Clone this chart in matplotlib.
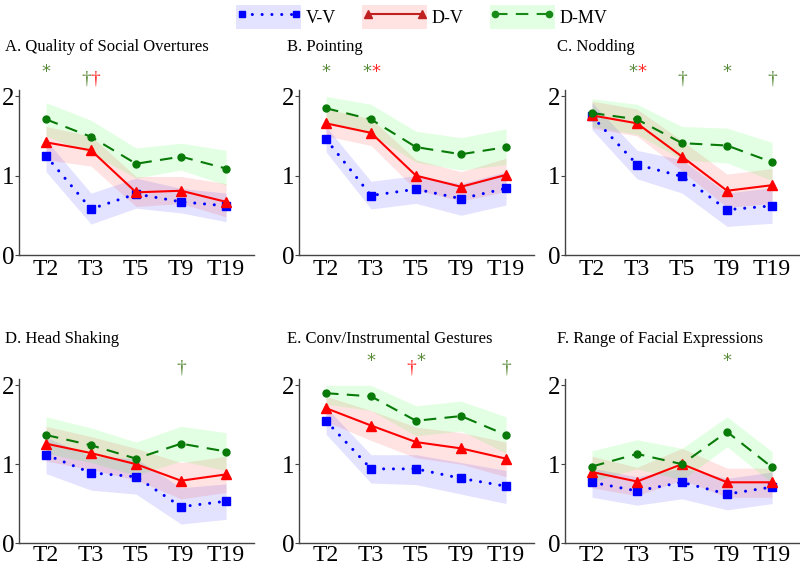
import matplotlib
matplotlib.use("Agg")
import matplotlib.pyplot as plt
from matplotlib.patches import Patch
from matplotlib.lines import Line2D
from matplotlib.legend_handler import HandlerTuple

plt.rcParams['font.family'] = ['Liberation Serif', 'DejaVu Serif']

times = ["T2", "T3", "T5", "T9", "T19"]
titles = ["A. Quality of Social Overtures", "B. Pointing", "C. Nodding",
          "D. Head Shaking", "E. Conv/Instrumental Gestures",
          "F. Range of Facial Expressions"]

# V-V group: mean, lower and upper band, one row per panel
vv_mean = [[1.25, 0.58, 0.77, 0.67, 0.62],
           [1.46, 0.75, 0.83, 0.71, 0.84],
           [1.75, 1.14, 0.99, 0.57, 0.62],
           [1.12, 0.89, 0.84, 0.46, 0.53],
           [1.55, 0.94, 0.94, 0.82, 0.72],
           [0.77, 0.66, 0.77, 0.62, 0.71]]
vv_low = [[1.05, 0.39, 0.59, 0.53, 0.42],
          [1.30, 0.58, 0.65, 0.50, 0.63],
          [1.58, 0.96, 0.78, 0.36, 0.40],
          [0.88, 0.67, 0.62, 0.24, 0.30],
          [1.38, 0.76, 0.74, 0.62, 0.50],
          [0.58, 0.48, 0.56, 0.42, 0.50]]
vv_high = [[1.45, 0.78, 0.97, 0.84, 0.78],
           [1.62, 0.93, 1.00, 0.90, 1.05],
           [1.92, 1.32, 1.20, 0.78, 0.85],
           [1.34, 1.10, 1.07, 0.70, 0.75],
           [1.72, 1.12, 1.12, 1.02, 0.92],
           [0.95, 0.84, 0.95, 0.82, 0.90]]

# D-V group
dv_mean = [[1.42, 1.32, 0.79, 0.81, 0.67],
           [1.66, 1.54, 1.00, 0.86, 1.01],
           [1.76, 1.66, 1.24, 0.81, 0.88],
           [1.26, 1.14, 1.00, 0.79, 0.87],
           [1.71, 1.49, 1.28, 1.20, 1.07],
           [0.90, 0.78, 1.00, 0.77, 0.77]]
dv_low = [[1.20, 1.12, 0.61, 0.65, 0.48],
          [1.50, 1.38, 0.82, 0.68, 0.80],
          [1.60, 1.50, 1.06, 0.60, 0.65],
          [1.04, 0.93, 0.80, 0.56, 0.64],
          [1.54, 1.30, 1.08, 1.00, 0.84],
          [0.70, 0.60, 0.80, 0.58, 0.58]]
dv_high = [[1.62, 1.50, 0.99, 0.99, 0.90],
           [1.84, 1.72, 1.20, 1.05, 1.22],
           [1.94, 1.84, 1.44, 1.02, 1.09],
           [1.48, 1.35, 1.20, 1.02, 1.10],
           [1.86, 1.68, 1.47, 1.40, 1.28],
           [1.10, 0.96, 1.20, 0.95, 0.95]]

# D-MV group
dmv_mean = [[1.71, 1.49, 1.15, 1.24, 1.09],
            [1.85, 1.71, 1.36, 1.27, 1.36],
            [1.79, 1.71, 1.41, 1.38, 1.17],
            [1.37, 1.24, 1.07, 1.26, 1.16],
            [1.90, 1.86, 1.55, 1.61, 1.37],
            [0.97, 1.13, 1.00, 1.41, 0.96]]
dmv_low = [[1.50, 1.28, 0.97, 1.07, 0.88],
           [1.66, 1.52, 1.17, 1.07, 1.14],
           [1.62, 1.52, 1.20, 1.16, 0.94],
           [1.14, 1.02, 0.86, 1.04, 0.92],
           [1.76, 1.68, 1.36, 1.42, 1.14],
           [0.78, 0.94, 0.80, 1.22, 0.76]]
dmv_high = [[1.92, 1.70, 1.35, 1.41, 1.32],
            [2.00, 1.90, 1.56, 1.48, 1.59],
            [1.97, 1.90, 1.62, 1.60, 1.42],
            [1.60, 1.46, 1.28, 1.48, 1.40],
            [2.00, 2.00, 1.74, 1.80, 1.60],
            [1.17, 1.31, 1.20, 1.60, 1.16]]

# significance marks: (time index, list of (symbol, color))
G = "#5b8c3c"
R = "#ff2a2a"
marks = [
    [(0, [("*", G)]), (1, [("†", G), ("†", R)])],
    [(0, [("*", G)]), (1, [("*", G), ("*", R)])],
    [(1, [("*", G), ("*", R)]), (2, [("†", G)]), (3, [("*", G)]), (4, [("†", G)])],
    [(3, [("†", G)])],
    [(1, [("*", G)]), (2, [("†", R), ("*", G)]), (4, [("†", G)])],
    [(3, [("*", G)])],
]

W, H = 800, 570
fig = plt.figure(figsize=(W / 100, H / 100), dpi=100)

lefts = [19, 299, 565]
tops = [90, 379]
bottoms = [255, 543]
aw = 235
title_x = [5, 287, 557]
title_y = [47, 339]

VV_LS = (0, (0.01, 3.2))
DMV_LS = (0, (6, 4))

x = list(range(len(times)))
for i in range(6):
    r, c = divmod(i, 3)
    ax = fig.add_axes([lefts[c] / W, 1 - bottoms[r] / H, aw / W,
                       (bottoms[r] - tops[r]) / H])
    ax.fill_between(x, vv_low[i], vv_high[i], color="blue", alpha=0.11, lw=0)
    ax.fill_between(x, dv_low[i], dv_high[i], color="red", alpha=0.11, lw=0)
    ax.fill_between(x, dmv_low[i], dmv_high[i], color="lime", alpha=0.11, lw=0)
    ax.plot(x, vv_mean[i], color="blue", ls=VV_LS, lw=2.2,
            marker="s", ms=5.5, dash_capstyle="round")
    ax.plot(x, dv_mean[i], color="red", ls="-", lw=1.5, marker="^", ms=6.5)
    ax.plot(x, dmv_mean[i], color="#087a08", ls=DMV_LS, lw=1.5,
            marker="o", ms=5)
    ax.set_xlim(-0.6, 4.62)
    ax.set_ylim(0, 2.08)
    ax.set_yticks([0, 1, 2])
    ax.set_xticks(x)
    ax.set_xticklabels(times)
    ax.tick_params(axis="x", length=0, labelsize=17, pad=3 if r == 0 else 1.5)
    ax.tick_params(axis="y", length=3, labelsize=18, pad=0, color="#444")
    for s in ["top", "right"]:
        ax.spines[s].set_visible(False)
    for s in ["left", "bottom"]:
        ax.spines[s].set_color("#444")
        ax.spines[s].set_linewidth(1)
    fig.text(title_x[c] / W, 1 - title_y[r] / H, titles[i], fontsize=12,
             va="center", ha="left")

    for ti, syms in marks[i]:
        n = len(syms)
        for k, (sym, col) in enumerate(syms):
            off = (k - (n - 1) / 2) * 0.2
            fs = 13 if sym == "*" else 14
            yy = 2.31 if sym == "*" else 2.22
            ax.text(ti + off, yy, sym, color=col, fontsize=fs, ha="center",
                    va="center", clip_on=False, fontfamily="DejaVu Sans"
                    if sym == "*" else "Liberation Serif")

# legend: shaded box with the line drawn across it
h_vv = (Patch(facecolor="blue", alpha=0.11, lw=0),
        Line2D([], [], color="blue", ls=VV_LS, lw=2.2, marker="s", ms=5,
               dash_capstyle="round"))
h_dv = (Patch(facecolor="red", alpha=0.11, lw=0),
        Line2D([], [], color="#c02020", ls="-", lw=1.5, marker="^", ms=6))
h_dmv = (Patch(facecolor="lime", alpha=0.11, lw=0),
         Line2D([], [], color="#178a17", ls=DMV_LS, lw=1.5, marker="o",
                ms=4.5))
fig.legend([h_vv, h_dv, h_dmv], ["V-V", "D-V", "D-MV"],
           handler_map={tuple: HandlerTuple(ndivide=1)},
           loc="center", bbox_to_anchor=(0.527, 1 - 17 / H), ncol=3,
           frameon=False, fontsize=13, numpoints=2, handlelength=3.6,
           handleheight=1.65, handletextpad=0.25, columnspacing=1.45,
           borderpad=0.2)

fig.savefig("out.png", dpi=100)
